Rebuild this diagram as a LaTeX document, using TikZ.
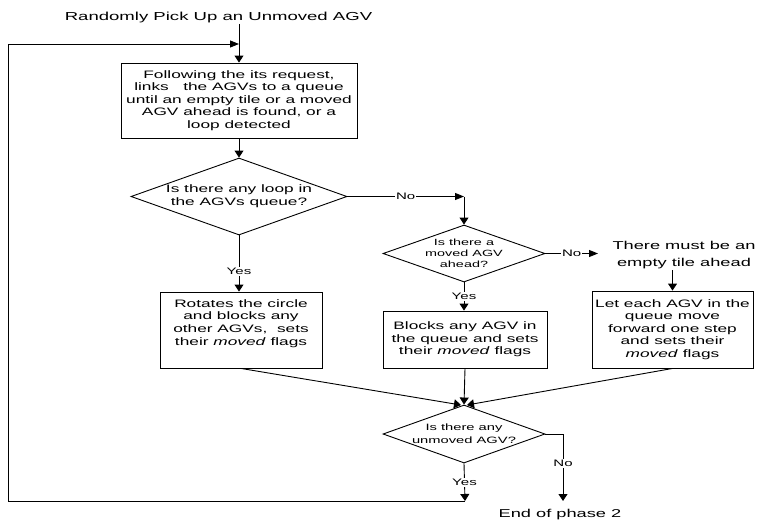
\documentclass[tikz,border=0pt]{standalone}
\usepackage{fontspec}
\setmainfont{Liberation Sans}[FakeStretch=1.6]
\usetikzlibrary{arrows.meta,shapes.geometric}
\begin{document}
\begin{tikzpicture}[x=1pt,y=-1pt,line width=0.9pt,
  arrV/.style={-{Triangle[length=7pt,width=9pt]}},
  arrH/.style={-{Triangle[length=9pt,width=7pt]}},
  bigtxt/.style={font=\fontsize{11.4}{17}\selectfont, inner sep=1pt},
  boxtxt/.style={font=\fontsize{10.8}{12.6}\selectfont},
  flowbox/.style={draw, rectangle, align=center, inner sep=0pt, boxtxt},
  dia/.style={draw, diamond, inner sep=0pt, aspect=2},
  diatxt/.style={align=center, inner sep=0pt},
  lbl/.style={fill=white, inner sep=1pt, font=\fontsize{9.4}{11}\selectfont}]
\useasboundingbox (0,0) rectangle (759,522);

% title
\node[bigtxt, font=\fontsize{11.6}{14}\selectfont, anchor=base] (title) at (218.5,20) {Randomly Pick Up an Unmoved AGV};

% box 1
\node[flowbox, minimum width=236pt, minimum height=75pt] (b1) at (239,100.5)
  {Following the its request,\\links~~~the AGVs to a queue\\until an empty tile or a moved\\AGV ahead is found, or a\\loop detected};

% diamond 1
\node[dia, minimum width=216pt, minimum height=77pt] (d1) at (239,196.5) {};
\node[diatxt, boxtxt] (d1t) at (d1.center) {Is there any loop in\\the AGVs queue?};

% diamond 2
\node[dia, minimum width=162pt, minimum height=57pt] (d2) at (464,253.5) {};
\node[diatxt, font=\fontsize{9}{11}\selectfont] (d2t) at (d2.center) {Is there a\\moved AGV\\ahead?};

% diamond 3
\node[dia, minimum width=162pt, minimum height=58pt] (d3) at (464,434) {};
\node[diatxt, font=\fontsize{9.2}{13}\selectfont] (d3t) at (d3.center) {Is there any\\unmoved AGV?};

% boxes
\node[flowbox, minimum width=162pt, minimum height=76pt] (b2) at (241,330)
  {Rotates the circle\\and blocks any\\other AGVs,~~sets\\their \textit{moved} flags\\[3pt]~};
\node[flowbox, minimum width=164pt, minimum height=57pt] (b3) at (465,339.5)
  {Blocks any AGV in\\the queue and sets\\their \textit{moved} flags};
\node[flowbox, minimum width=161pt, minimum height=77pt] (b4) at (672.5,329.5)
  {Let each AGV in the\\queue move\\forward one step\\and sets their\\\textit{moved} flags};

% free texts
\node[bigtxt, align=center] (must) at (684,255) {There must be an\\empty tile ahead};
\node[bigtxt] (end) at (560,515) {End of phase 2};

% coordinates
\coordinate (loopin) at (239,44);
\coordinate (cornerTL) at (8,44);
\coordinate (cornerBL) at (8,501);
\coordinate (yesend) at (465,501);
\coordinate (nocorner) at (464,196.5);
\coordinate (noend) at (598,253.5);
\coordinate (endtip) at (563,501);
\coordinate (d3l) at (461,405);
\coordinate (d3r) at (467,405);

% connectors
\draw[arrV] (title.south -| b1.north) -- (b1.north);
\draw[arrV] (b1.south) -- (d1.north);
\draw[arrH] (d1.east) -- (nocorner) node[lbl, pos=0.5] {No};
\draw[arrV] (nocorner) -- (d2.north);
\draw[arrV] (d1.south) -- (d1.south |- b2.north) node[lbl, pos=0.64] {Yes};
\draw[arrV] (d2.south) -- (d2.south |- b3.north) node[lbl, pos=0.5] {Yes};
\draw[arrH] (d2.east) -- (noend) node[lbl, pos=0.5] {No};
\draw[arrV] (must.south -| b4.north) -- (b4.north);
\draw[arrV] (b2.south) -- (d3l);
\draw[arrV] (b3.south) -- (d3.north);
\draw[arrV] (b4.south) -- (d3r);
\draw[arrV] (d3.south) -- (yesend) node[lbl, pos=0.5] {Yes};
\draw[arrV] (d3.east) -| (endtip) node[lbl, pos=0.72] {No};
\draw[arrH] (yesend) -- (cornerBL) -- (cornerTL) -- (loopin);
\end{tikzpicture}
\end{document}
